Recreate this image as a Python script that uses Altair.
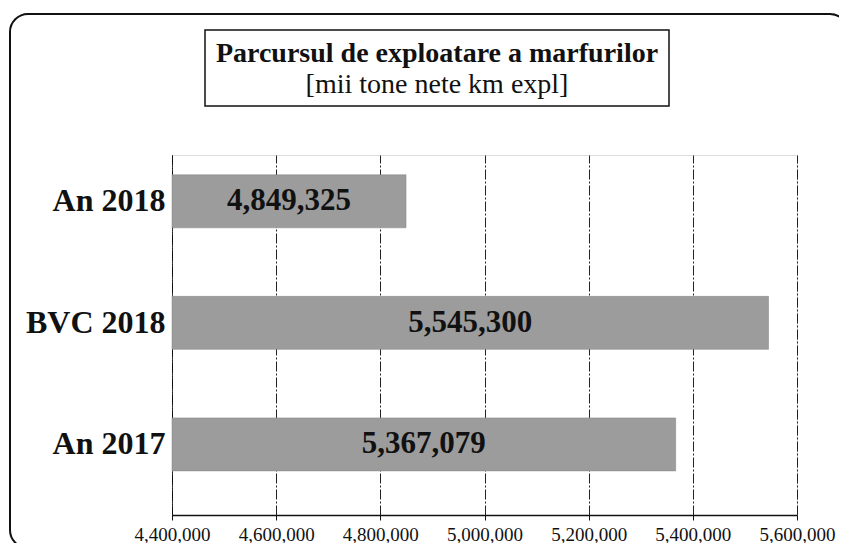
import altair as alt
import pandas as pd

categories = ["An 2018", "BVC 2018", "An 2017"]
values = [4849325, 5545300, 5367079]
x_ticks = [4400000, 4600000, 4800000, 5000000, 5200000, 5400000, 5600000]
title_line1 = "Parcursul de exploatare a marfurilor"
title_line2 = "[mii tone nete km expl]"

df = pd.DataFrame({"cat": categories, "val": values})
X_MIN, X_MAX = 4400000, 5600000
FONT = "Liberation Serif, Times New Roman, DejaVu Serif, serif"

xscale = alt.Scale(domain=[X_MIN, X_MAX], nice=False, zero=False)
yscale = alt.Scale(domain=categories, paddingInner=0.564, paddingOuter=0.263, align=0.31)

base = alt.Chart(df)

bars = base.mark_bar(color="#9c9c9c", stroke="#808080", strokeWidth=0.5).encode(
    x=alt.X("val:Q", scale=xscale,
            axis=alt.Axis(values=x_ticks, format=",d", title=None, grid=True,
                          gridColor="#222222", gridDash=[10, 2, 2, 2], gridWidth=1,
                          domainColor="#111111", domainWidth=1.5,
                          tickColor="#111111", tickSize=5,
                          labelFont=FONT, labelFontSize=19, labelColor="#111111",
                          labelPadding=5, labelFlush=False)),
    x2=alt.datum(X_MIN),
    y=alt.Y("cat:N", scale=yscale, sort=categories,
            axis=alt.Axis(title=None, ticks=False, domainColor="#111111",
                          domainDash=[10, 2, 2, 2], labelFont=FONT, labelFontSize=32,
                          labelFontWeight="bold", labelColor="#111111", labelPadding=7)),
)

labels = base.transform_calculate(
    mid=f"({X_MIN} + datum.val) / 2"
).mark_text(font=FONT, fontSize=31, fontWeight="bold", color="#111111").encode(
    x=alt.X("mid:Q", scale=xscale),
    y=alt.Y("cat:N", scale=yscale, sort=categories),
    text=alt.Text("val:Q", format=",d"),
)

deco = alt.Chart(alt.Data(values=[{"a": 1}]))

outer = deco.mark_rect(fill=None, stroke="#111111", strokeWidth=2, cornerRadius=18).encode(
    x=alt.value(-162), x2=alt.value(676), y=alt.value(-141), y2=alt.value(393)
)
title_box = deco.mark_rect(fill="white", stroke="#111111", strokeWidth=1.5).encode(
    x=alt.value(33), x2=alt.value(497), y=alt.value(-125), y2=alt.value(-49)
)
t1 = deco.mark_text(font=FONT, fontSize=28, fontWeight="bold", color="#111111").encode(
    x=alt.value(265), y=alt.value(-101), text=alt.value(title_line1)
)
t2 = deco.mark_text(font=FONT, fontSize=28, color="#111111").encode(
    x=alt.value(265), y=alt.value(-70), text=alt.value(title_line2)
)

chart = alt.layer(outer, bars, labels, title_box, t1, t2).properties(
    width=625, height=360,
    autosize=alt.AutoSizeParams(type="none"),
    padding={"left": 164, "top": 147, "right": 42, "bottom": 28},
).configure_view(stroke=None).configure(background="white")

chart.save("out.html", embed_options={"renderer": "svg", "actions": False})
